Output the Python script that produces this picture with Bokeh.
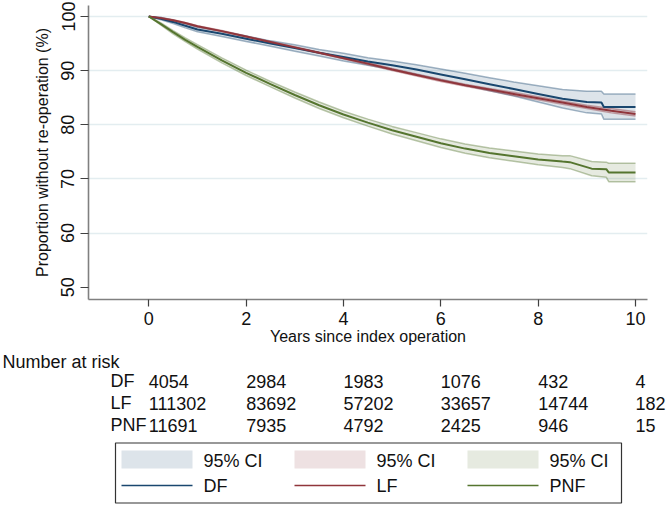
import numpy as np
from bokeh.plotting import figure
from bokeh.models import Range1d, FixedTicker
from bokeh.embed import file_html
from bokeh.resources import INLINE
from bokeh.core.properties import value

# ---------------- data ----------------
df_t = [0, 0.25, 0.5, 0.75, 1, 1.5, 2, 2.5, 3, 3.5, 4, 4.5, 5, 5.5, 6, 6.5, 7, 7.5, 8, 8.5, 9, 9.3, 9.35, 10]
df_surv = [100, 99.6, 99.0, 98.3, 97.6, 96.8, 95.9, 95.0, 94.2, 93.3, 92.5, 91.7, 91.0, 90.2, 89.3, 88.4, 87.5, 86.6, 85.7, 84.8, 84.2, 84.1, 83.3, 83.3]
df_lo = [100, 99.4, 98.7, 97.9, 97.2, 96.3, 95.4, 94.5, 93.6, 92.7, 91.8, 91.0, 90.2, 89.3, 88.3, 87.3, 86.3, 85.3, 84.2, 83.1, 82.2, 82.0, 81.0, 81.0]
df_hi = [100, 99.8, 99.3, 98.7, 98.0, 97.3, 96.4, 95.5, 94.8, 93.9, 93.2, 92.4, 91.8, 91.1, 90.3, 89.5, 88.7, 87.9, 87.2, 86.5, 86.2, 86.2, 85.7, 85.7]

lf_t = [0, 0.25, 0.5, 0.75, 1, 1.5, 2, 2.5, 3, 3.5, 4, 4.5, 5, 5.5, 6, 6.5, 7, 7.5, 8, 8.5, 9, 9.5, 10]
lf_surv = [100, 99.7, 99.3, 98.8, 98.2, 97.3, 96.3, 95.3, 94.3, 93.3, 92.3, 91.3, 90.2, 89.2, 88.2, 87.3, 86.5, 85.7, 84.9, 84.1, 83.3, 82.6, 82.0]
lf_lo = [100, 99.6, 99.2, 98.7, 98.1, 97.2, 96.2, 95.2, 94.2, 93.2, 92.2, 91.1, 90.0, 89.0, 88.0, 87.1, 86.3, 85.4, 84.6, 83.8, 83.0, 82.2, 81.6]
lf_hi = [100, 99.8, 99.4, 98.9, 98.3, 97.4, 96.4, 95.4, 94.4, 93.4, 92.4, 91.5, 90.4, 89.4, 88.4, 87.5, 86.7, 86.0, 85.2, 84.4, 83.6, 83.0, 82.4]

pnf_t = [0, 0.25, 0.5, 0.75, 1, 1.5, 2, 2.5, 3, 3.5, 4, 4.5, 5, 5.5, 6, 6.5, 7, 7.5, 8, 8.5, 8.65, 9.1, 9.4, 9.45, 10]
pnf_surv = [100, 98.6, 97.1, 95.7, 94.4, 91.9, 89.6, 87.5, 85.5, 83.6, 81.9, 80.4, 79.0, 77.8, 76.6, 75.6, 74.8, 74.2, 73.6, 73.2, 73.1, 71.9, 71.8, 71.2, 71.2]
pnf_lo = [100, 98.4, 96.8, 95.35, 94.0, 91.45, 89.1, 87.0, 84.95, 83.0, 81.3, 79.75, 78.3, 77.05, 75.8, 74.75, 73.9, 73.25, 72.6, 72.1, 71.9, 70.6, 70.3, 69.5, 69.5]
pnf_hi = [100, 98.8, 97.4, 96.05, 94.8, 92.35, 90.1, 88.0, 86.05, 84.2, 82.5, 81.05, 79.7, 78.55, 77.4, 76.45, 75.7, 75.15, 74.6, 74.3, 74.3, 73.2, 73.1, 72.9, 72.9]

groups = ["DF", "LF", "PNF"]
colors = ["#1a476f", "#90353b", "#55752f"]

risk_times = [0, 2, 4, 6, 8, 10]
risk_df = ["4054", "2984", "1983", "1076", "432", "4"]
risk_lf = ["111302", "83692", "57202", "33657", "14744", "182"]
risk_pnf = ["11691", "7935", "4792", "2425", "946", "15"]

y_ticks = [50, 60, 70, 80, 90, 100]
grid_ticks = [60, 70, 80, 90, 100]

FONT = "Liberation Sans"
TXT = "#111111"

# ---------------- geometry (page pixels) ----------------
W = 668
PAGE_H = 506
LEFT, RIGHT = 88, 647          # frame left / right
TOP, BOTTOM = 5, 299           # frame top / bottom
H_MAIN = 350
PX_PER_YEAR = 48.67
PX_PER_PCT = 5.414
X_ZERO_PX = 148.3              # page x of year 0
Y_100_PX = 16                  # page y of 100 %

X0 = (LEFT - X_ZERO_PX) / PX_PER_YEAR
X1 = (RIGHT - X_ZERO_PX) / PX_PER_YEAR
Y1 = 100 + (Y_100_PX - TOP) / PX_PER_PCT
Y0 = 100 - (BOTTOM - Y_100_PX) / PX_PER_PCT

p = figure(width=W, height=H_MAIN, x_range=Range1d(X0, X1), y_range=Range1d(Y0, Y1),
           output_backend="svg", toolbar_location=None, title=None,
           min_border_left=LEFT, min_border_right=W - RIGHT,
           min_border_top=TOP, min_border_bottom=H_MAIN - BOTTOM)
p.outline_line_color = None

p.xgrid.visible = False
p.ygrid.ticker = FixedTicker(ticks=grid_ticks)
p.ygrid.grid_line_color = "#e3edf0"
p.ygrid.grid_line_width = 1.3

for ax in (p.xaxis[0], p.yaxis[0]):
    ax.axis_line_color = "#808080"
    ax.axis_line_width = 1.6
    ax.major_tick_line_color = "#404040"
    ax.major_tick_line_width = 1.2
    ax.major_tick_in = 0
    ax.minor_tick_line_color = None
    ax.major_label_text_font = FONT
    ax.major_label_text_color = TXT
    ax.major_label_text_font_size = "18px"
    ax.axis_label_text_font = FONT
    ax.axis_label_text_font_style = "normal"
    ax.axis_label_text_color = TXT
    ax.axis_label_text_font_size = "16px"

p.xaxis.ticker = FixedTicker(ticks=risk_times)
p.xaxis.major_tick_out = 7
p.xaxis.major_label_standoff = 5
p.xaxis.axis_label = "Years since index operation"
p.xaxis.axis_label_standoff = 0

p.yaxis.ticker = FixedTicker(ticks=y_ticks)
p.yaxis.major_tick_out = 8
p.yaxis.major_label_orientation = "vertical"
p.yaxis.major_label_standoff = 6
p.yaxis.axis_label = "Proportion without re-operation (%)"
p.yaxis.axis_label_standoff = 8

series = [(df_t, df_surv, df_lo, df_hi), (lf_t, lf_surv, lf_lo, lf_hi),
          (pnf_t, pnf_surv, pnf_lo, pnf_hi)]

for (t, s, lo, hi), c in zip(series, colors):
    p.varea(x=t, y1=lo, y2=hi, fill_color=c, fill_alpha=0.15)
    p.line(x=t, y=lo, line_color=c, line_alpha=0.4, line_width=1.5)
    p.line(x=t, y=hi, line_color=c, line_alpha=0.4, line_width=1.5)

for (t, s, lo, hi), c in zip(series, colors):
    p.line(x=t, y=s, line_color=c, line_width=2)

# ---------------- lower part: number at risk + legend ----------------
H_LOW = PAGE_H - H_MAIN
LX0 = (0 - X_ZERO_PX) / PX_PER_YEAR
LX1 = (W - X_ZERO_PX) / PX_PER_YEAR


def lx(px):
    """year-axis x for a page pixel column"""
    return (px - X_ZERO_PX) / PX_PER_YEAR


low = figure(width=W, height=H_LOW, x_range=Range1d(LX0, LX1), y_range=Range1d(PAGE_H, H_MAIN),
             output_backend="svg", toolbar_location=None, title=None,
             x_axis_location=None, y_axis_location=None,
             min_border_left=0, min_border_right=0, min_border_top=0, min_border_bottom=0)
low.outline_line_color = None
low.grid.visible = False

txt_kw = dict(text_font=value(FONT), text_font_size="18px", text_baseline="middle",
              text_align="left", text_color=TXT)

low.text(x=[lx(2)], y=[361], text=["Number at risk"], **txt_kw)
row_y = [380.5, 402.6, 424.7]
risk_rows = [risk_df, risk_lf, risk_pnf]
for g, vals, ry in zip(groups, risk_rows, row_y):
    low.text(x=[lx(110)], y=[ry], text=[g], **txt_kw)
    low.text(x=risk_times, y=[ry] * len(risk_times), text=vals, **txt_kw)

# legend box
low.quad(left=[lx(115)], right=[lx(621)], top=[442.5], bottom=[502.5],
         fill_color="white", line_color="#333333", line_width=1.2)
col_px = [121, 294, 467]
key_w = 71
for i, (g, c) in enumerate(zip(groups, colors)):
    x0 = col_px[i]
    low.quad(left=[lx(x0)], right=[lx(x0 + key_w)], top=[450], bottom=[468], fill_color=c,
             fill_alpha=0.15, line_color=None)
    low.segment(x0=[lx(x0)], x1=[lx(x0 + key_w)], y0=[485], y1=[485], line_color=c, line_width=1.4)
    low.text(x=[lx(x0 + key_w + 11)] * 2, y=[460, 485], text=["95% CI", g], **txt_kw)

open("out.html", "w").write(file_html([p, low], INLINE))
